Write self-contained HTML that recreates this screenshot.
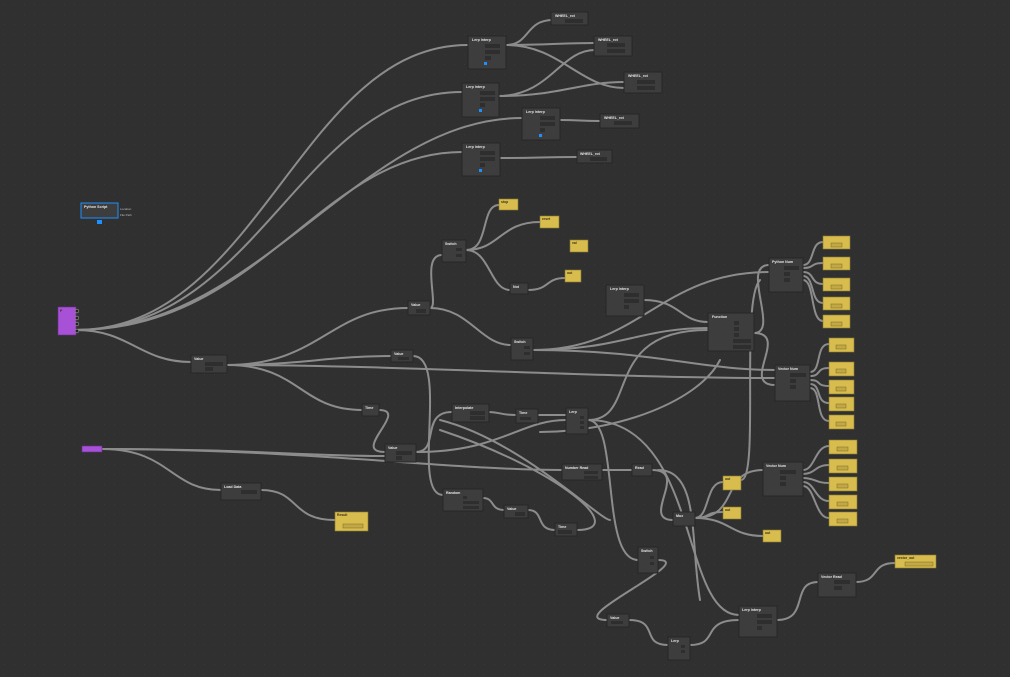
<!DOCTYPE html>
<html><head><meta charset="utf-8"><style>
html,body{margin:0;padding:0;background:#303030;}
svg{display:block;font-family:"Liberation Sans",sans-serif;}
.n{fill:#3d3d3d;stroke:#262626;stroke-width:1}
.y{fill:#d8bd4e;stroke:#8a7a30;stroke-width:0.6}
.f{fill:#2e2e2e}
.fy{fill:#c2a744;stroke:#7a6a28;stroke-width:.5}
.t{fill:#e6e6e6;font-size:3.6px;font-weight:bold}
.ty{fill:#3a3212;font-size:3.4px;font-weight:bold}
.l{fill:#bbb;font-size:3px}
.w{fill:none;stroke:#8c8c8c;stroke-width:2;stroke-linecap:round}
.p{fill:#222;stroke:#999;stroke-width:.6}
.py{fill:#222;stroke:#d8bd4e;stroke-width:.6}
</style></head><body>
<svg width="1010" height="677" viewBox="0 0 1010 677" xmlns="http://www.w3.org/2000/svg">
<defs><pattern id="g" width="10" height="10" patternUnits="userSpaceOnUse"><rect x="4" y="4" width="1" height="1" fill="#3b3b3b"/></pattern></defs>
<rect width="1010" height="677" fill="#303030"/>
<rect width="1010" height="677" fill="url(#g)"/>

<!-- wires -->
<g class="w">
<path d="M76 330 C260 330 300 45 468 45"/>
<path d="M76 330 C260 330 300 92 462 92"/>
<path d="M76 330 C260 330 360 118 522 118"/>
<path d="M76 330 C260 330 320 152 462 152"/>
<path d="M76 330 C130 330 140 362 191 362"/>
<path d="M506 45 C530 45 525 20 553 20"/>
<path d="M506 45 C550 45 560 43 595 43"/>
<path d="M506 45 C560 45 580 88 624 88"/>
<path d="M498 96 C550 96 560 50 595 50"/>
<path d="M498 96 C560 96 580 82 624 82"/>
<path d="M560 120 C580 120 580 121 600 121"/>
<path d="M500 158 C540 158 540 157 577 157"/>
<path d="M227 365 C300 365 330 356 391 356"/>
<path d="M227 365 C320 365 330 308 408 308"/>
<path d="M227 365 C300 365 300 410 362 410"/>
<path d="M227 365 C400 365 600 378 775 378"/>
<path d="M430 308 C440 308 420 255 442 255"/>
<path d="M430 308 C470 308 480 345 511 345"/>
<path d="M466 250 C490 250 480 205 499 205"/>
<path d="M466 250 C500 250 500 222 540 222"/>
<path d="M466 250 C490 250 490 290 510 290"/>
<path d="M528 290 C550 290 545 278 565 278"/>
<path d="M413 356 C450 356 410 495 443 495"/>
<path d="M533 350 C640 350 660 272 769 272"/>
<path d="M533 350 C620 350 640 328 708 328"/>
<path d="M533 350 C650 350 700 370 775 370"/>
<path d="M644 300 C680 300 680 322 708 322"/>
<path d="M754 333 C790 333 740 385 775 385"/>
<path d="M754 333 C780 333 740 265 769 265"/>
<path d="M803 265 C815 265 810 242 823 242"/>
<path d="M803 268 C815 268 810 263 823 263"/>
<path d="M803 272 C815 272 810 284 823 284"/>
<path d="M803 276 C815 276 810 303 823 303"/>
<path d="M803 280 C815 280 810 321 823 321"/>
<path d="M810 372 C822 372 815 344 829 344"/>
<path d="M810 376 C822 376 815 368 829 368"/>
<path d="M810 380 C822 380 815 386 829 386"/>
<path d="M810 384 C822 384 815 403 829 403"/>
<path d="M810 388 C822 388 815 421 829 421"/>
<path d="M379 410 C410 410 350 452 385 452"/>
<path d="M102 449 C250 449 300 456 385 456"/>
<path d="M102 449 C170 449 170 490 221 490"/>
<path d="M102 449 C300 449 450 470 562 470"/>
<path d="M261 490 C300 490 290 520 335 520"/>
<path d="M416 452 C440 452 420 412 452 412"/>
<path d="M416 452 C500 452 520 420 566 420"/>
<path d="M489 412 C500 412 500 415 516 415"/>
<path d="M538 415 C550 415 550 415 566 415"/>
<path d="M588 420 C640 420 600 330 708 330"/>
<path d="M588 420 C620 420 600 560 638 560"/>
<path d="M540 432 C620 432 700 400 720 360"/>
<path d="M602 470 C615 470 615 470 632 470"/>
<path d="M652 470 C690 470 640 520 673 520"/>
<path d="M483 498 C495 498 490 510 504 510"/>
<path d="M528 510 C545 510 535 530 555 530"/>
<path d="M577 530 C630 530 560 470 440 430"/>
<path d="M440 420 C520 440 600 520 610 520"/>
<path d="M695 518 C710 518 705 482 723 482"/>
<path d="M695 518 C710 518 705 512 723 512"/>
<path d="M695 518 C730 518 730 536 763 536"/>
<path d="M695 518 C740 518 720 470 763 470"/>
<path d="M658 470 C700 470 690 540 700 600"/>
<path d="M803 470 C815 470 815 446 829 446"/>
<path d="M803 474 C815 474 815 465 829 465"/>
<path d="M803 478 C815 478 815 483 829 483"/>
<path d="M803 482 C815 482 815 501 829 501"/>
<path d="M803 486 C815 486 815 518 829 518"/>
<path d="M658 560 C700 560 560 620 607 620"/>
<path d="M629 620 C660 620 640 645 668 645"/>
<path d="M690 645 C720 645 700 620 739 620"/>
<path d="M588 420 C700 420 680 615 739 615"/>
<path d="M777 620 C810 620 790 582 818 582"/>
<path d="M856 582 C880 582 870 563 895 563"/>
<path d="M741 480 C760 480 740 300 760 280"/>
</g>

<!-- purple nodes -->
<rect x="58" y="307" width="18" height="28" fill="#a651d6" stroke="#6b2f8a" stroke-width=".6"/>
<text x="60" y="312" class="ty" fill="#fff">P</text>
<circle cx="77" cy="311" r="1.8" class="p"/><circle cx="77" cy="318" r="1.8" class="p"/><circle cx="77" cy="324" r="1.8" class="p"/><circle cx="77" cy="331" r="1.8" class="p"/>
<rect x="82" y="446" width="20" height="6" fill="#a651d6" stroke="#6b2f8a" stroke-width=".6"/>

<!-- selected node -->
<rect x="81" y="203" width="37" height="15" class="n" stroke="#1e88e5" style="stroke:#1e90ff"/>
<text x="84" y="208" class="t">Python Script</text>
<rect x="97" y="220" width="5" height="4" fill="#1e90ff"/>
<text x="120" y="210" class="l">Location</text><text x="120" y="216" class="l">File Path</text>

<!-- dark nodes -->
<g>
<rect x="468" y="36" width="38" height="33" class="n"/><text x="472" y="41" class="t">Lerp Interp</text><rect x="485" y="44" width="15" height="4" class="f"/><rect x="485" y="50" width="15" height="4" class="f"/><rect x="485" y="56" width="6" height="4" class="f"/><rect x="484" y="62" width="3" height="3" fill="#1e90ff"/>
<rect x="551" y="12" width="37" height="13" class="n"/><text x="555" y="17" class="t">WHEEL_rot</text><rect x="565" y="19" width="18" height="4" class="f"/>
<rect x="594" y="36" width="38" height="20" class="n"/><text x="598" y="41" class="t">WHEEL_rot</text><rect x="607" y="43" width="18" height="4" class="f"/><rect x="607" y="49" width="18" height="4" class="f"/>
<rect x="624" y="72" width="38" height="21" class="n"/><text x="628" y="77" class="t">WHEEL_rot</text><rect x="637" y="80" width="18" height="4" class="f"/><rect x="637" y="86" width="18" height="4" class="f"/>
<rect x="462" y="83" width="37" height="34" class="n"/><text x="466" y="88" class="t">Lerp Interp</text><rect x="480" y="91" width="15" height="4" class="f"/><rect x="480" y="97" width="15" height="4" class="f"/><rect x="480" y="103" width="5" height="4" class="f"/><rect x="479" y="109" width="3" height="3" fill="#1e90ff"/>
<rect x="522" y="108" width="38" height="32" class="n"/><text x="526" y="113" class="t">Lerp Interp</text><rect x="540" y="116" width="15" height="4" class="f"/><rect x="540" y="122" width="15" height="4" class="f"/><rect x="540" y="128" width="5" height="4" class="f"/><rect x="539" y="134" width="3" height="3" fill="#1e90ff"/>
<rect x="600" y="114" width="39" height="14" class="n"/><text x="604" y="119" class="t">WHEEL_rot</text><rect x="614" y="121" width="18" height="4" class="f"/>
<rect x="462" y="143" width="38" height="33" class="n"/><text x="466" y="148" class="t">Lerp Interp</text><rect x="480" y="151" width="15" height="4" class="f"/><rect x="480" y="157" width="15" height="4" class="f"/><rect x="480" y="163" width="5" height="4" class="f"/><rect x="479" y="169" width="3" height="3" fill="#1e90ff"/>
<rect x="577" y="150" width="35" height="13" class="n"/><text x="580" y="155" class="t">WHEEL_rot</text><rect x="590" y="157" width="17" height="4" class="f"/>

<rect x="442" y="240" width="24" height="22" class="n"/><text x="445" y="245" class="t">Switch</text><rect x="456" y="248" width="6" height="3" class="f"/><rect x="456" y="254" width="6" height="3" class="f"/>
<rect x="510" y="283" width="18" height="11" class="n"/><text x="513" y="288" class="t">Not</text>
<rect x="408" y="301" width="22" height="14" class="n"/><text x="411" y="306" class="t">Value</text><rect x="416" y="309" width="10" height="4" class="f"/>
<rect x="606" y="285" width="38" height="31" class="n"/><text x="610" y="290" class="t">Lerp Interp</text><rect x="624" y="293" width="15" height="4" class="f"/><rect x="624" y="299" width="15" height="4" class="f"/><rect x="624" y="305" width="5" height="4" class="f"/>
<rect x="511" y="338" width="22" height="22" class="n"/><text x="514" y="343" class="t">Switch</text><rect x="524" y="346" width="6" height="3" class="f"/><rect x="524" y="352" width="6" height="3" class="f"/>
<rect x="191" y="355" width="36" height="18" class="n"/><text x="194" y="360" class="t">Value</text><rect x="205" y="362" width="18" height="4" class="f"/><rect x="205" y="367" width="8" height="4" class="f"/>
<rect x="391" y="350" width="22" height="12" class="n"/><text x="394" y="355" class="t">Value</text><rect x="398" y="357" width="11" height="3" class="f"/>
<rect x="708" y="313" width="46" height="38" class="n"/><text x="712" y="318" class="t">Function</text><rect x="734" y="321" width="5" height="4" class="f"/><rect x="734" y="327" width="5" height="4" class="f"/><rect x="734" y="333" width="5" height="4" class="f"/><rect x="733" y="339" width="18" height="4" class="f"/><rect x="733" y="345" width="18" height="4" class="f"/>
<rect x="769" y="258" width="34" height="34" class="n"/><text x="772" y="263" class="t">Python Num</text><rect x="784" y="266" width="15" height="4" class="f"/><rect x="784" y="272" width="6" height="4" class="f"/><rect x="784" y="278" width="6" height="4" class="f"/>
<rect x="775" y="365" width="35" height="36" class="n"/><text x="778" y="370" class="t">Vector Num</text><rect x="790" y="373" width="16" height="4" class="f"/><rect x="790" y="379" width="6" height="4" class="f"/><rect x="790" y="385" width="6" height="4" class="f"/>
<rect x="362" y="404" width="17" height="12" class="n"/><text x="365" y="409" class="t">Time</text>
<rect x="452" y="404" width="37" height="18" class="n"/><text x="455" y="409" class="t">Interpolate</text><rect x="470" y="411" width="15" height="4" class="f"/><rect x="470" y="416" width="15" height="4" class="f"/>
<rect x="516" y="409" width="22" height="14" class="n"/><text x="519" y="414" class="t">Time</text><rect x="520" y="417" width="11" height="3" class="f"/>
<rect x="566" y="408" width="22" height="26" class="n"/><text x="569" y="413" class="t">Lerp</text><rect x="580" y="416" width="4" height="3" class="f"/><rect x="580" y="421" width="4" height="3" class="f"/><rect x="580" y="426" width="4" height="3" class="f"/>
<rect x="385" y="444" width="31" height="18" class="n"/><text x="388" y="449" class="t">Value</text><rect x="396" y="451" width="16" height="4" class="f"/><rect x="396" y="456" width="6" height="4" class="f"/>
<rect x="221" y="483" width="40" height="17" class="n"/><text x="224" y="488" class="t">Load Data</text><rect x="241" y="490" width="16" height="4" class="f"/>
<rect x="562" y="464" width="40" height="16" class="n"/><text x="565" y="469" class="t">Number Read</text><rect x="584" y="471" width="14" height="3" class="f"/><rect x="584" y="476" width="14" height="3" class="f"/>
<rect x="632" y="464" width="20" height="12" class="n"/><text x="635" y="469" class="t">Read</text>
<rect x="443" y="489" width="40" height="22" class="n"/><text x="446" y="494" class="t">Random</text><rect x="463" y="496" width="4" height="3" class="f"/><rect x="463" y="501" width="16" height="3" class="f"/><rect x="463" y="506" width="16" height="3" class="f"/>
<rect x="504" y="505" width="24" height="13" class="n"/><text x="507" y="510" class="t">Value</text><rect x="515" y="512" width="10" height="4" class="f"/>
<rect x="555" y="523" width="22" height="13" class="n"/><text x="558" y="528" class="t">Time</text><rect x="558" y="530" width="14" height="4" class="f"/>
<rect x="673" y="512" width="22" height="14" class="n"/><text x="676" y="517" class="t">Mux</text>
<rect x="763" y="462" width="40" height="34" class="n"/><text x="766" y="467" class="t">Vector Num</text><rect x="780" y="470" width="16" height="4" class="f"/><rect x="780" y="476" width="6" height="4" class="f"/><rect x="780" y="482" width="6" height="4" class="f"/>
<rect x="638" y="547" width="20" height="26" class="n"/><text x="641" y="552" class="t">Switch</text><rect x="650" y="556" width="4" height="3" class="f"/><rect x="650" y="562" width="4" height="3" class="f"/>
<rect x="607" y="614" width="22" height="13" class="n"/><text x="610" y="619" class="t">Value</text><rect x="611" y="621" width="12" height="3" class="f"/>
<rect x="668" y="637" width="22" height="23" class="n"/><text x="671" y="642" class="t">Lerp</text><rect x="681" y="645" width="4" height="3" class="f"/><rect x="681" y="650" width="4" height="3" class="f"/>
<rect x="739" y="606" width="38" height="31" class="n"/><text x="742" y="611" class="t">Lerp Interp</text><rect x="757" y="614" width="15" height="4" class="f"/><rect x="757" y="620" width="15" height="4" class="f"/><rect x="757" y="626" width="5" height="4" class="f"/>
<rect x="818" y="573" width="38" height="24" class="n"/><text x="821" y="578" class="t">Vector Read</text><rect x="834" y="580" width="16" height="4" class="f"/><rect x="834" y="586" width="8" height="4" class="f"/>
</g>

<!-- yellow nodes -->
<g>
<rect x="499" y="199" width="19" height="11" class="y"/><text x="501" y="203" class="ty">stop</text>
<rect x="540" y="216" width="19" height="12" class="y"/><text x="542" y="220" class="ty">reset</text>
<rect x="570" y="240" width="18" height="12" class="y"/><text x="572" y="244" class="ty">val</text>
<rect x="565" y="270" width="16" height="12" class="y"/><text x="567" y="274" class="ty">out</text>
<rect x="823" y="236" width="27" height="13" class="y"/><rect x="831" y="243" width="11" height="4" class="fy"/>
<rect x="823" y="257" width="27" height="13" class="y"/><rect x="831" y="264" width="11" height="4" class="fy"/>
<rect x="823" y="278" width="27" height="13" class="y"/><rect x="831" y="285" width="11" height="4" class="fy"/>
<rect x="823" y="297" width="27" height="13" class="y"/><rect x="831" y="304" width="11" height="4" class="fy"/>
<rect x="823" y="315" width="27" height="13" class="y"/><rect x="831" y="322" width="11" height="4" class="fy"/>
<rect x="829" y="338" width="25" height="14" class="y"/><rect x="836" y="345" width="10" height="4" class="fy"/>
<rect x="829" y="362" width="25" height="14" class="y"/><rect x="836" y="369" width="10" height="4" class="fy"/>
<rect x="829" y="380" width="25" height="14" class="y"/><rect x="836" y="387" width="10" height="4" class="fy"/>
<rect x="829" y="397" width="25" height="14" class="y"/><rect x="836" y="404" width="10" height="4" class="fy"/>
<rect x="829" y="415" width="25" height="14" class="y"/><rect x="836" y="422" width="10" height="4" class="fy"/>
<rect x="829" y="440" width="28" height="14" class="y"/><rect x="837" y="447" width="11" height="4" class="fy"/>
<rect x="829" y="459" width="28" height="14" class="y"/><rect x="837" y="466" width="11" height="4" class="fy"/>
<rect x="829" y="477" width="28" height="14" class="y"/><rect x="837" y="484" width="11" height="4" class="fy"/>
<rect x="829" y="495" width="28" height="14" class="y"/><rect x="837" y="502" width="11" height="4" class="fy"/>
<rect x="829" y="512" width="28" height="14" class="y"/><rect x="837" y="519" width="11" height="4" class="fy"/>
<rect x="335" y="512" width="33" height="19" class="y"/><text x="337" y="516" class="ty">Result</text><rect x="343" y="524" width="20" height="4" class="fy"/>
<rect x="723" y="476" width="18" height="14" class="y"/><text x="725" y="480" class="ty">out</text>
<rect x="723" y="507" width="18" height="12" class="y"/><text x="725" y="511" class="ty">out</text>
<rect x="763" y="530" width="18" height="12" class="y"/><text x="765" y="534" class="ty">out</text>
<rect x="895" y="555" width="41" height="13" class="y"/><text x="897" y="559" class="ty">vector_out</text><rect x="905" y="562" width="28" height="4" class="fy"/>
</g>
</svg>
</body></html>
